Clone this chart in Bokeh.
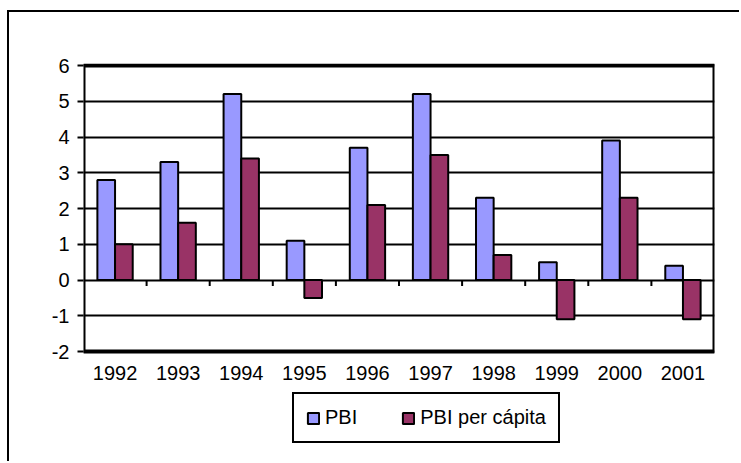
from bokeh.plotting import figure
from bokeh.models import (FactorRange, Range1d, ColumnDataSource, Legend, LegendItem,
                          FixedTicker, CustomJSTickFormatter)
from bokeh.core.properties import value
from bokeh.transform import dodge
from bokeh.embed import file_html
from bokeh.resources import INLINE

years = ["1992", "1993", "1994", "1995", "1996", "1997", "1998", "1999", "2000", "2001"]
pbi = [2.8, 3.3, 5.2, 1.1, 3.7, 5.2, 2.3, 0.5, 3.9, 0.4]
pbi_per_capita = [1.0, 1.6, 3.4, -0.5, 2.1, 3.5, 0.7, -1.1, 2.3, -1.1]
y_ticks = [-2, -1, 0, 1, 2, 3, 4, 5, 6]

FONT = "Liberation Sans"
FS = "20px"

# window-pixel layout
OX, OY = 9, 12                      # canvas origin (inside outer chart border)
PLOT_L, PLOT_R = 83, 714            # plot area left/right
PLOT_T, PLOT_B = 65, 351            # plot area top (y=6) / bottom (y=-2)
FRAME_T, FRAME_B = 63, 455          # drawing frame (extends below to hold legend)
W, H = 741 - OX, 463 - OY

px_per_unit = (PLOT_B - PLOT_T) / (y_ticks[-1] - y_ticks[0])
y_max = y_ticks[-1] + (PLOT_T - FRAME_T) / px_per_unit
y_min = y_ticks[0] - (FRAME_B - PLOT_B) / px_per_unit

p = figure(x_range=FactorRange(*years, range_padding=0),
           y_range=Range1d(y_min, y_max),
           x_axis_location=None,
           width=W, height=H, output_backend="svg", toolbar_location=None,
           min_border_left=PLOT_L - OX, min_border_top=FRAME_T - OY,
           min_border_right=741 - PLOT_R, min_border_bottom=463 - FRAME_B)
p.margin = (OY - 2, 0, 0, OX - 2)
p.styles = {"border-left": "2px solid black", "border-top": "2px solid black"}
p.background_fill_color = "white"
p.border_fill_color = "white"
p.outline_line_color = None

# horizontal grid lines only
p.xgrid.grid_line_color = None
p.ygrid.ticker = FixedTicker(ticks=y_ticks)
p.ygrid.grid_line_color = "black"
p.ygrid.grid_line_alpha = 1
p.ygrid.grid_line_width = 2

src = ColumnDataSource(dict(year=years, pbi=pbi, pc=pbi_per_capita))
r1 = p.vbar(x=dodge("year", -0.14, range=p.x_range), top="pbi", bottom=0, width=0.28,
            source=src, fill_color="#9999FF", line_color="black", line_width=2)
r2 = p.vbar(x=dodge("year", 0.14, range=p.x_range), top="pc", bottom=0, width=0.28,
            source=src, fill_color="#993366", line_color="black", line_width=2)

# plot-area border
bsrc = ColumnDataSource(dict(first=[years[0]], last=[years[-1]],
                             top=[y_ticks[-1]], bottom=[y_ticks[0]]))
p.quad(left=dodge("first", -0.5, range=p.x_range), right=dodge("last", 0.5, range=p.x_range),
       top="top", bottom="bottom", source=bsrc, fill_color=None,
       line_color="black", line_width=4)

# category boundary tick marks on the zero line
tick_len = 6 / px_per_unit
tsrc = ColumnDataSource(dict(year=years[1:], y0=[0] * (len(years) - 1),
                             y1=[-tick_len] * (len(years) - 1)))
p.segment(x0=dodge("year", -0.5, range=p.x_range), x1=dodge("year", -0.5, range=p.x_range),
          y0="y0", y1="y1", source=tsrc, line_color="black", line_width=2)

# category labels below the plot area
label_y = y_ticks[0] - 21 / px_per_unit
lsrc = ColumnDataSource(dict(year=years, y=[label_y] * len(years)))
p.text(x="year", y="y", text="year", source=lsrc, text_align="center",
       text_baseline="middle", text_font=value(FONT), text_font_size=FS,
       text_color="black")

p.yaxis.ticker = FixedTicker(ticks=y_ticks)
p.yaxis.formatter = CustomJSTickFormatter(code="return String(tick)")
p.yaxis.axis_line_color = None
p.yaxis.major_tick_line_color = "black"
p.yaxis.major_tick_line_width = 2
p.yaxis.major_tick_out = 6
p.yaxis.major_tick_in = 0
p.yaxis.minor_tick_line_color = None
p.yaxis.major_label_text_font = FONT
p.yaxis.major_label_text_font_size = FS
p.yaxis.major_label_text_font_style = "normal"
p.yaxis.major_label_text_color = "black"
p.yaxis.major_label_standoff = 8

legend = Legend(items=[LegendItem(label="PBI", renderers=[r1]),
                       LegendItem(label="PBI per cápita", renderers=[r2])],
                orientation="horizontal", location=(209, 12), margin=0,
                padding=12, spacing=44, glyph_width=14, glyph_height=14,
                label_standoff=5, label_text_font=FONT, label_text_font_size=FS,
                label_text_color="black", border_line_color="black",
                border_line_alpha=1, border_line_width=2,
                background_fill_color="white", background_fill_alpha=1)
p.add_layout(legend, "center")

open("out.html", "w").write(file_html(p, INLINE))
